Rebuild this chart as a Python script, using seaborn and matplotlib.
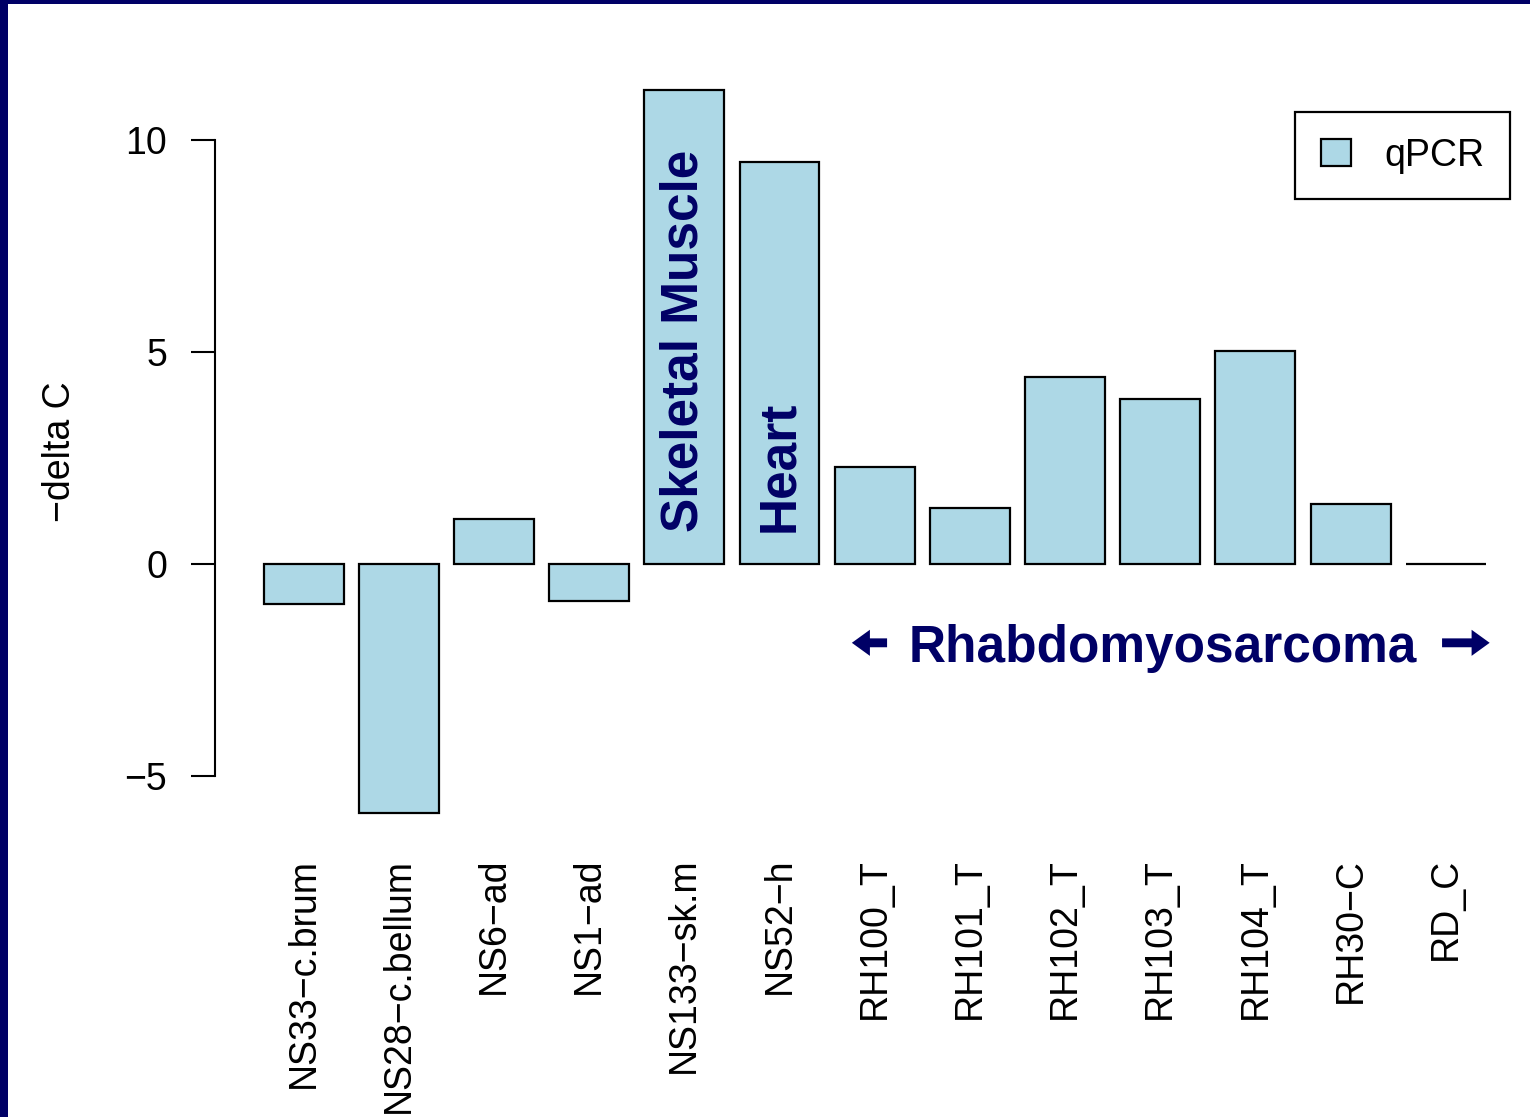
import matplotlib
matplotlib.use("Agg")
import matplotlib.pyplot as plt
from matplotlib.patches import Patch, Rectangle
import seaborn as sns
import pandas as pd

# Samples and their -delta C values from qPCR
samples = ["NS33\u2212c.brum", "NS28\u2212c.bellum", "NS6\u2212ad", "NS1\u2212ad",
           "NS133\u2212sk.m", "NS52\u2212h", "RH100_T", "RH101_T", "RH102_T",
           "RH103_T", "RH104_T", "RH30\u2212C", "RD_C"]
delta_c = [-0.94, -5.87, 1.06, -0.87, 11.18, 9.48, 2.29, 1.32, 4.41,
           3.89, 5.02, 1.42, 0.0]
y_ticks = [-5, 0, 5, 10]
series_name = "qPCR"

df = pd.DataFrame({"sample": samples, "value": delta_c})

sns.set_theme(style="white")
plt.rcParams["font.family"] = ["Liberation Sans", "DejaVu Sans"]
plt.rcParams["axes.unicode_minus"] = True

NAVY = "#000066"
BAR = "#ADD8E6"
W, H = 1530, 1117

fig = plt.figure(figsize=(W / 100, H / 100), dpi=100)
fig.patch.set_facecolor("white")
ax = fig.add_axes([215 / W, (H - 841.7) / H, 1319.4 / W, 780.7 / H])
ax.set_facecolor("white")

sns.barplot(data=df, x="sample", y="value", color=BAR, saturation=1,
            edgecolor="black", linewidth=1.6, width=0.84, ax=ax)

ax.set_xlim(-0.93, 12.93)
ax.set_ylim(-6.55, 11.86)
ax.set_yticks(y_ticks)

for side in ("top", "right", "bottom"):
    ax.spines[side].set_visible(False)
ax.spines["left"].set_bounds(-5, 10)
ax.spines["left"].set_linewidth(1.5)
ax.spines["left"].set_color("black")

ax.tick_params(axis="x", length=0, pad=11.5, labelsize=27, labelrotation=90,
               labelcolor="black")
ax.tick_params(axis="y", left=True, length=17.3, width=1.5, pad=17,
               labelsize=27, labelcolor="black", color="black")
ax.set_xlabel("")
ax.set_ylabel("\u2212delta C", fontsize=27, color="black")
ax.yaxis.set_label_coords(-0.104, 0.5)

# Group annotations
ax.text(4, 0.75, "Skeletal Muscle", rotation=90, ha="center", va="bottom",
        fontsize=37, fontweight="bold", color=NAVY)
ax.text(5, 0.75, "Heart", rotation=90, ha="center", va="bottom",
        fontsize=37, fontweight="bold", color=NAVY)
ax.text(9.03, -2.31, "Rhabdomyosarcoma", ha="center", va="baseline",
        fontsize=37, fontweight="bold", color=NAVY)

arrow_style = "simple,head_length=0.65,head_width=0.94,tail_width=0.32"
ax.annotate("", xy=(5.76, -1.86), xytext=(6.13, -1.86),
            arrowprops=dict(arrowstyle=arrow_style, mutation_scale=20,
                            color=NAVY, lw=0, shrinkA=0, shrinkB=0))
ax.annotate("", xy=(12.46, -1.86), xytext=(11.96, -1.86),
            arrowprops=dict(arrowstyle=arrow_style, mutation_scale=20,
                            color=NAVY, lw=0, shrinkA=0, shrinkB=0))

# Legend
leg = ax.legend(handles=[Patch(facecolor=BAR, edgecolor="black", linewidth=1.6)],
                labels=[series_name], loc="upper right",
                bbox_to_anchor=(1510 / W, 1 - 112 / H), bbox_transform=fig.transFigure,
                borderaxespad=0, frameon=True, fancybox=False, framealpha=1,
                edgecolor="black", fontsize=27, borderpad=0.68,
                handlelength=0.8, handleheight=0.7, handletextpad=0.9)
leg.get_frame().set_linewidth(1.6)
for t in leg.get_texts():
    t.set_color("black")

# Slide frame along the left and top edges
fig.add_artist(Rectangle((0, 0), 8 / W, 1, transform=fig.transFigure,
                         facecolor=NAVY, edgecolor="none", zorder=10))
fig.add_artist(Rectangle((0, 1 - 4 / H), 1, 4 / H, transform=fig.transFigure,
                         facecolor=NAVY, edgecolor="none", zorder=10))

fig.savefig("out.png", dpi=100, facecolor="white")
